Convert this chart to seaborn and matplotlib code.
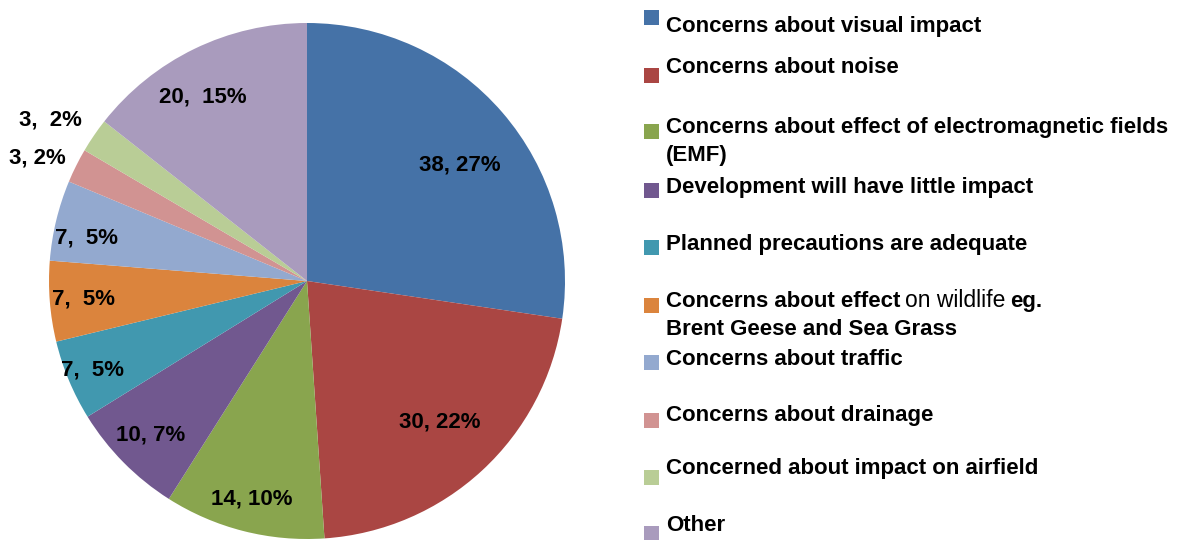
import matplotlib
matplotlib.use('Agg')
import matplotlib.pyplot as plt
from matplotlib.patches import Rectangle
import numpy as np
import seaborn as sns

# data
categories = ["Concerns about visual impact", "Concerns about noise",
              "Concerns about effect of electromagnetic fields (EMF)",
              "Development will have little impact", "Planned precautions are adequate",
              "Concerns about effect on wildlife eg. Brent Geese and Sea Grass",
              "Concerns about traffic", "Concerns about drainage",
              "Concerned about impact on airfield", "Other"]
counts = [38, 30, 14, 10, 7, 7, 7, 3, 3, 20]
percents = [27, 22, 10, 7, 5, 5, 5, 2, 2, 15]
colors = ["#4572A7", "#AA4643", "#89A54E", "#71588F", "#4198AF",
          "#DB843D", "#93A9CF", "#D19392", "#B9CD96", "#A99BBD"]

# label placement (fraction of radius, angle shift in deg) and legend layout in pixels
label_r = [0.745, 0.75, 0.87, 0.85, 0.90, 0.87, 0.87, 1.15, 1.175, 0.82]
label_dang = [-3.6, 0.5, 0, 0, 0, 0, 2.6, 2.0, 2.2, 3.6]
label_sep = [", ", ", ", ", ", ", ", ",  ", ",  ", ",  ", ", ", ",  ", ",  "]
leg_base = [32, 73, 133, 193, 250, 307, 365, 421, 474, 531]
leg_box = [10, 68, 124, 183, 240, 298, 355, 413, 470, 526]

W, H = 1194, 540
sns.set_theme(style="white")
plt.rcParams['font.family'] = ['Liberation Sans', 'DejaVu Sans']
plt.rcParams['text.color'] = 'black'

fig = plt.figure(figsize=(W / 100, H / 100), dpi=100)
cx, cy, R = 307, 281, 258
ax = fig.add_axes([(cx - R) / W, (H - cy - R) / H, 2 * R / W, 2 * R / H])
pal = sns.color_palette(colors)
wedges, _ = ax.pie(counts, colors=pal, startangle=90, counterclock=False,
                   radius=1, wedgeprops=dict(linewidth=0))
ax.set_xlim(-1, 1)
ax.set_ylim(-1, 1)
ax.set_aspect('equal')
ax.axis('off')

for w, r, da, v, p, sep in zip(wedges, label_r, label_dang, counts, percents, label_sep):
    ang = np.deg2rad((w.theta1 + w.theta2) / 2 + da)
    ax.text(r * np.cos(ang), r * np.sin(ang), f"{v}{sep}{p}%", ha='center', va='center',
            fontsize=16, fontweight='bold', color='black', clip_on=False)

def fx(x):
    return x / W

def fy(y):
    return 1 - y / H

fs = 16
tx = 666
for i, (name, c) in enumerate(zip(categories, pal)):
    fig.add_artist(Rectangle((fx(644), fy(leg_box[i] + 15)), 15 / W, 15 / H,
                             transform=fig.transFigure, facecolor=c, edgecolor='none'))
    y = fy(leg_base[i])
    if i == 2:
        fig.text(fx(tx), y, "Concerns about effect of electromagnetic fields",
                 fontsize=fs, fontweight='bold', va='baseline')
        fig.text(fx(tx), fy(leg_base[i] + 28), "(EMF)", fontsize=fs, fontweight='bold', va='baseline')
    elif i == 5:
        t1 = fig.text(fx(tx), y, "Concerns about effect", fontsize=fs, fontweight='bold', va='baseline')
        t2 = ax.annotate("on wildlife", xy=(1, 0), xycoords=t1, xytext=(3.5, 0),
                         textcoords='offset points', fontsize=fs + 0.5, va='bottom',
                         annotation_clip=False)
        ax.annotate("eg.", xy=(1, 0), xycoords=t2, xytext=(3.5, 0),
                    textcoords='offset points', fontsize=fs, fontweight='bold', va='bottom',
                    annotation_clip=False)
        fig.text(fx(tx), fy(leg_base[i] + 28), "Brent Geese and Sea Grass",
                 fontsize=fs, fontweight='bold', va='baseline')
    else:
        fig.text(fx(tx), y, name, fontsize=fs, fontweight='bold', va='baseline')

fig.savefig('out.png', dpi=100)
